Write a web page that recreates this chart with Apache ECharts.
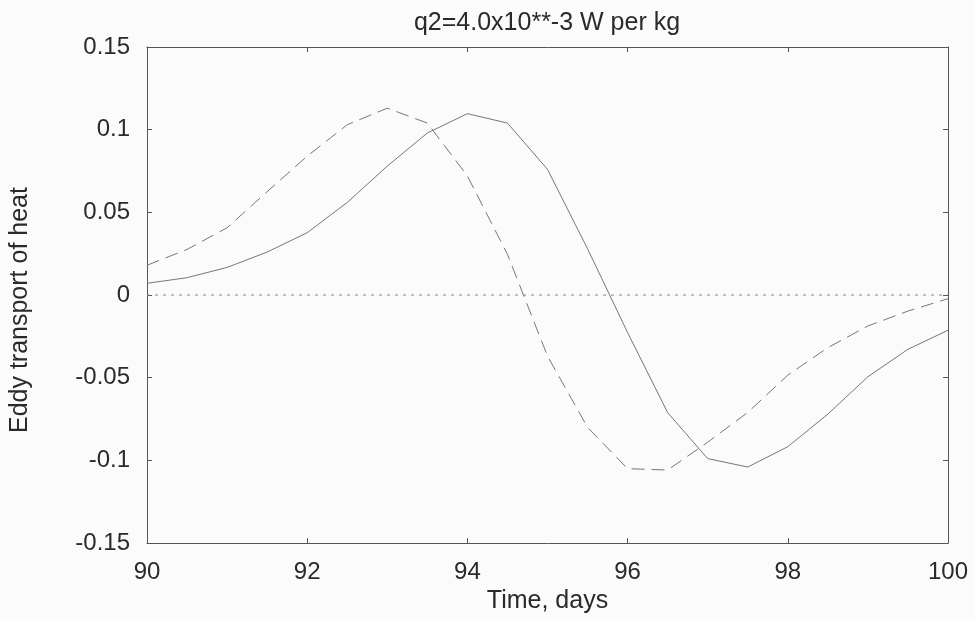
<!DOCTYPE html>
<html>
<head>
<meta charset="utf-8">
<script src="https://cdn.jsdelivr.net/npm/echarts@6/dist/echarts.min.js"></script>
<style>html,body{margin:0;padding:0;background:#fbfbfb;}#c{width:975px;height:619px;}</style>
</head>
<body>
<div id="c"></div>
<script>
const days = [90, 90.5, 91, 91.5, 92, 92.5, 93, 93.5, 94, 94.5, 95, 95.5, 96, 96.5, 97, 97.5, 98, 98.5, 99, 99.5, 100];
const solidValues = [0.0071, 0.0105, 0.0167, 0.026, 0.0377, 0.056, 0.078, 0.098, 0.1097, 0.104, 0.076, 0.028, -0.0227, -0.0711, -0.0989, -0.104, -0.0917, -0.072, -0.0494, -0.0328, -0.0213];
const dashedValues = [0.018, 0.0276, 0.0407, 0.0625, 0.084, 0.103, 0.113, 0.104, 0.072, 0.0246, -0.0369, -0.08, -0.105, -0.1058, -0.089, -0.071, -0.0484, -0.0318, -0.0187, -0.0097, -0.0022];
const zeroDays = [90, 100];
const zeroValues = [0, 0];
const xTicks = [90, 92, 94, 96, 98, 100];
const yTicks = [-0.15, -0.1, -0.05, 0, 0.05, 0.1, 0.15];
const titleText = 'q2=4.0x10**-3 W per kg';
const xName = 'Time, days';
const yName = 'Eddy transport of heat';

const font = 'Liberation Sans, Arial, sans-serif';
const axisColor = '#555';
const textColor = '#2a2a2a';
const pair = (xs, ys) => xs.map((x, i) => [x, ys[i]]);

const chart = echarts.init(document.getElementById('c'));
chart.setOption({
  backgroundColor: '#fbfbfb',
  animation: false,
  title: {
    text: titleText, left: 542, top: 6, textAlign: 'center',
    textStyle: { fontFamily: font, fontSize: 25, fontWeight: 'normal', color: textColor }
  },
  grid: { left: 143, right: 27, top: 47, bottom: 75, containLabel: false },
  xAxis: [{
    type: 'value', min: 90, max: 100, interval: 2,
    name: xName, nameLocation: 'middle', nameGap: 43,
    nameTextStyle: { fontFamily: font, fontSize: 25, color: textColor },
    axisLine: { show: true, onZero: false, lineStyle: { color: axisColor, width: 1 } },
    axisTick: { show: true, inside: true, length: 5, lineStyle: { color: axisColor } },
    axisLabel: { fontFamily: font, fontSize: 24, color: textColor, margin: 17, formatter: v => xTicks.includes(v) ? String(v) : '' },
    splitLine: { show: false }
  }, {
    type: 'value', min: 90, max: 100, interval: 2, position: 'top',
    axisLine: { show: true, onZero: false, lineStyle: { color: axisColor, width: 1 } },
    axisTick: { show: true, inside: true, length: 5, lineStyle: { color: axisColor } },
    axisLabel: { show: false }, splitLine: { show: false }
  }],
  yAxis: [{
    type: 'value', min: -0.15, max: 0.15, interval: 0.05,
    name: yName, nameLocation: 'middle', nameGap: 114, nameRotate: 90,
    nameTextStyle: { fontFamily: font, fontSize: 25, color: textColor, padding: [0, 30, 0, 0] },
    axisLine: { show: true, onZero: false, lineStyle: { color: axisColor, width: 1 } },
    axisTick: { show: true, inside: true, length: 5, lineStyle: { color: axisColor } },
    axisLabel: { fontFamily: font, fontSize: 24, color: textColor, margin: 17,
      formatter: v => { const r = Math.round(v * 100) / 100; return yTicks.includes(r) ? String(r) : ''; } },
    splitLine: { show: false }
  }, {
    type: 'value', min: -0.15, max: 0.15, interval: 0.05, position: 'right',
    axisLine: { show: true, onZero: false, lineStyle: { color: axisColor, width: 1 } },
    axisTick: { show: true, inside: true, length: 5, lineStyle: { color: axisColor } },
    axisLabel: { show: false }, splitLine: { show: false }
  }],
  series: [{
    type: 'line', data: pair(zeroDays, zeroValues), symbol: 'none', silent: true,
    lineStyle: { color: '#888', width: 1, type: [3, 5] }
  }, {
    type: 'line', data: pair(days, solidValues), symbol: 'none',
    lineStyle: { color: '#777', width: 1 }
  }, {
    type: 'line', data: pair(days, dashedValues), symbol: 'none',
    lineStyle: { color: '#777', width: 1, type: [13, 7] }
  }]
});
</script>
</body>
</html>
